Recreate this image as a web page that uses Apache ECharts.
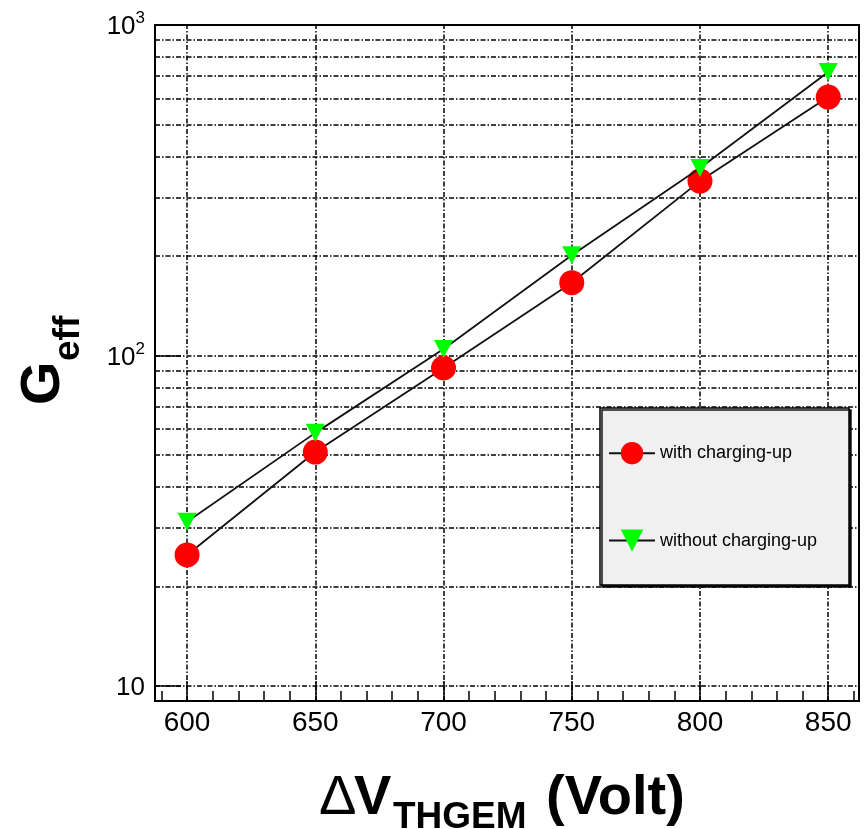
<!DOCTYPE html>
<html>
<head>
<meta charset="utf-8">
<script src="https://cdn.jsdelivr.net/npm/echarts@6/dist/echarts.min.js"></script>
<style>
html,body{margin:0;padding:0;background:#fff;}
#chart{width:864px;height:829px;}
</style>
</head>
<body>
<div id="chart"></div>
<script>
// ---- data ----
const voltages = [600, 650, 700, 750, 800, 850];
const gainWithCharging = [24.9, 51, 91.6, 166, 337, 605];
const gainWithoutCharging = [31.4, 58.3, 104.6, 201, 369, 721];
const seriesNames = ['with charging-up', 'without charging-up'];
const xMajorTicks = [600, 650, 700, 750, 800, 850];
const xMinorTicks = [590, 600, 610, 620, 630, 640, 650, 660, 670, 680, 690, 700, 710, 720, 730, 740, 750, 760, 770, 780, 790, 800, 810, 820, 830, 840, 850, 860];
const yGridValues = [10, 20, 30, 40, 50, 60, 70, 80, 90, 100, 200, 300, 400, 500, 600, 700, 800, 900];

const FONT = "'Liberation Sans', Arial, Helvetica, sans-serif";
const chart = echarts.init(document.getElementById('chart'), null, {renderer: 'canvas'});

const gridDash = {color: '#000', width: 1.5, type: [5, 2, 1.5, 2]};

function pairs(xs, ys) { return xs.map((x, i) => [x, ys[i]]); }

function yLabel(v) {
  const e = Math.round(Math.log10(v));
  if (Math.abs(v - Math.pow(10, e)) > 1e-6 * Math.pow(10, e)) return '';
  if (e === 1) return '{b|10}';
  return '{b|10}{s|' + e + '}';
}

const xCommon = {type: 'value', min: 587.5, max: 862, splitLine: {show: false}};

const option = {
  animation: false,
  backgroundColor: '#fff',
  grid: {left: 155, right: 5, top: 25, bottom: 128, show: true, borderColor: '#000', borderWidth: 2, backgroundColor: 'transparent', containLabel: false},
  xAxis: [
    Object.assign({}, xCommon, {
      position: 'bottom',
      axisLine: {show: true, onZero: false, lineStyle: {color: '#000', width: 2}},
      axisTick: {show: true, inside: true, length: 20, customValues: xMajorTicks, lineStyle: {color: '#000', width: 1.5}},
      axisLabel: {show: true, customValues: xMajorTicks, margin: 8, fontSize: 28, fontFamily: FONT, color: '#000'}
    }),
    Object.assign({}, xCommon, {
      position: 'bottom',
      axisLine: {show: false, onZero: false},
      axisTick: {show: true, inside: true, length: 10, customValues: xMinorTicks, lineStyle: {color: '#000', width: 1.5}},
      axisLabel: {show: false}
    })
  ],
  yAxis: [
    {
      type: 'log', logBase: 10, min: 9, max: 1000, position: 'left',
      axisLine: {show: true, onZero: false, lineStyle: {color: '#000', width: 2}},
      axisTick: {show: true, inside: true, length: 26, lineStyle: {color: '#000', width: 1.5}},
      splitLine: {show: false},
      axisLabel: {
        show: true, margin: 10, showMinLabel: false, formatter: yLabel,
        rich: {
          b: {fontSize: 26, fontFamily: FONT, color: '#000', lineHeight: 30, verticalAlign: 'bottom'},
          s: {fontSize: 17, fontFamily: FONT, color: '#000', lineHeight: 30, verticalAlign: 'top'}
        }
      }
    }
  ],
  legend: {
    show: true, orient: 'vertical', left: 608, top: 442, z: 20, padding: 0,
    itemWidth: 46, itemHeight: 28, itemGap: 65,
    textStyle: {fontSize: 18, fontFamily: FONT, color: '#000'},
    data: seriesNames
  },
  graphic: [
    {type: 'rect', z: 10, shape: {x: 600, y: 408, width: 249, height: 177},
     style: {fill: '#f0f0f0', stroke: '#000', lineWidth: 1.5, shadowColor: 'rgba(0,0,0,0.9)', shadowOffsetX: 2, shadowOffsetY: 2, shadowBlur: 0}},
    // y title G_eff
    {type: 'text', z: 30, x: 44, y: 405, rotation: Math.PI / 2,
     style: {text: 'G', font: 'bold 56px ' + FONT, fill: '#000', align: 'left', verticalAlign: 'middle'}},
    {type: 'text', z: 30, x: 69, y: 361, rotation: Math.PI / 2,
     style: {text: 'eff', font: 'bold 37px ' + FONT, fill: '#000', align: 'left', verticalAlign: 'middle'}},
    // x title ΔV_THGEM (Volt)
    {type: 'text', z: 30, x: 319, y: 799,
     style: {text: 'Δ', font: '56px ' + FONT, fill: '#000', align: 'left', verticalAlign: 'middle'}},
    {type: 'text', z: 30, x: 354, y: 799,
     style: {text: 'V', font: 'bold 56px ' + FONT, fill: '#000', align: 'left', verticalAlign: 'middle'}},
    {type: 'text', z: 30, x: 393, y: 818,
     style: {text: 'THGEM', font: 'bold 37px ' + FONT, fill: '#000', align: 'left', verticalAlign: 'middle'}},
    {type: 'text', z: 30, x: 546, y: 799,
     style: {text: '(Volt)', font: 'bold 56px ' + FONT, fill: '#000', align: 'left', verticalAlign: 'middle'}}
  ],
  series: [
    {
      name: seriesNames[0], type: 'line', xAxisIndex: 0, yAxisIndex: 0, z: 3,
      data: pairs(voltages, gainWithCharging),
      symbol: 'circle', symbolSize: 25,
      itemStyle: {color: '#ff0000'},
      lineStyle: {color: '#111', width: 1.8},
      markLine: {
        silent: true, symbol: ['none', 'none'], z: 1, label: {show: false},
        lineStyle: gridDash,
        data: yGridValues.map(v => ({yAxis: v})).concat(xMajorTicks.map(v => ({xAxis: v})))
      }
    },
    {
      name: seriesNames[1], type: 'line', xAxisIndex: 0, yAxisIndex: 0, z: 4,
      data: pairs(voltages, gainWithoutCharging),
      symbol: 'triangle', symbolRotate: 180, symbolSize: [19, 18],
      itemStyle: {color: '#00ff00'},
      lineStyle: {color: '#111', width: 1.8}
    }
  ]
};
chart.setOption(option);
</script>
</body>
</html>
